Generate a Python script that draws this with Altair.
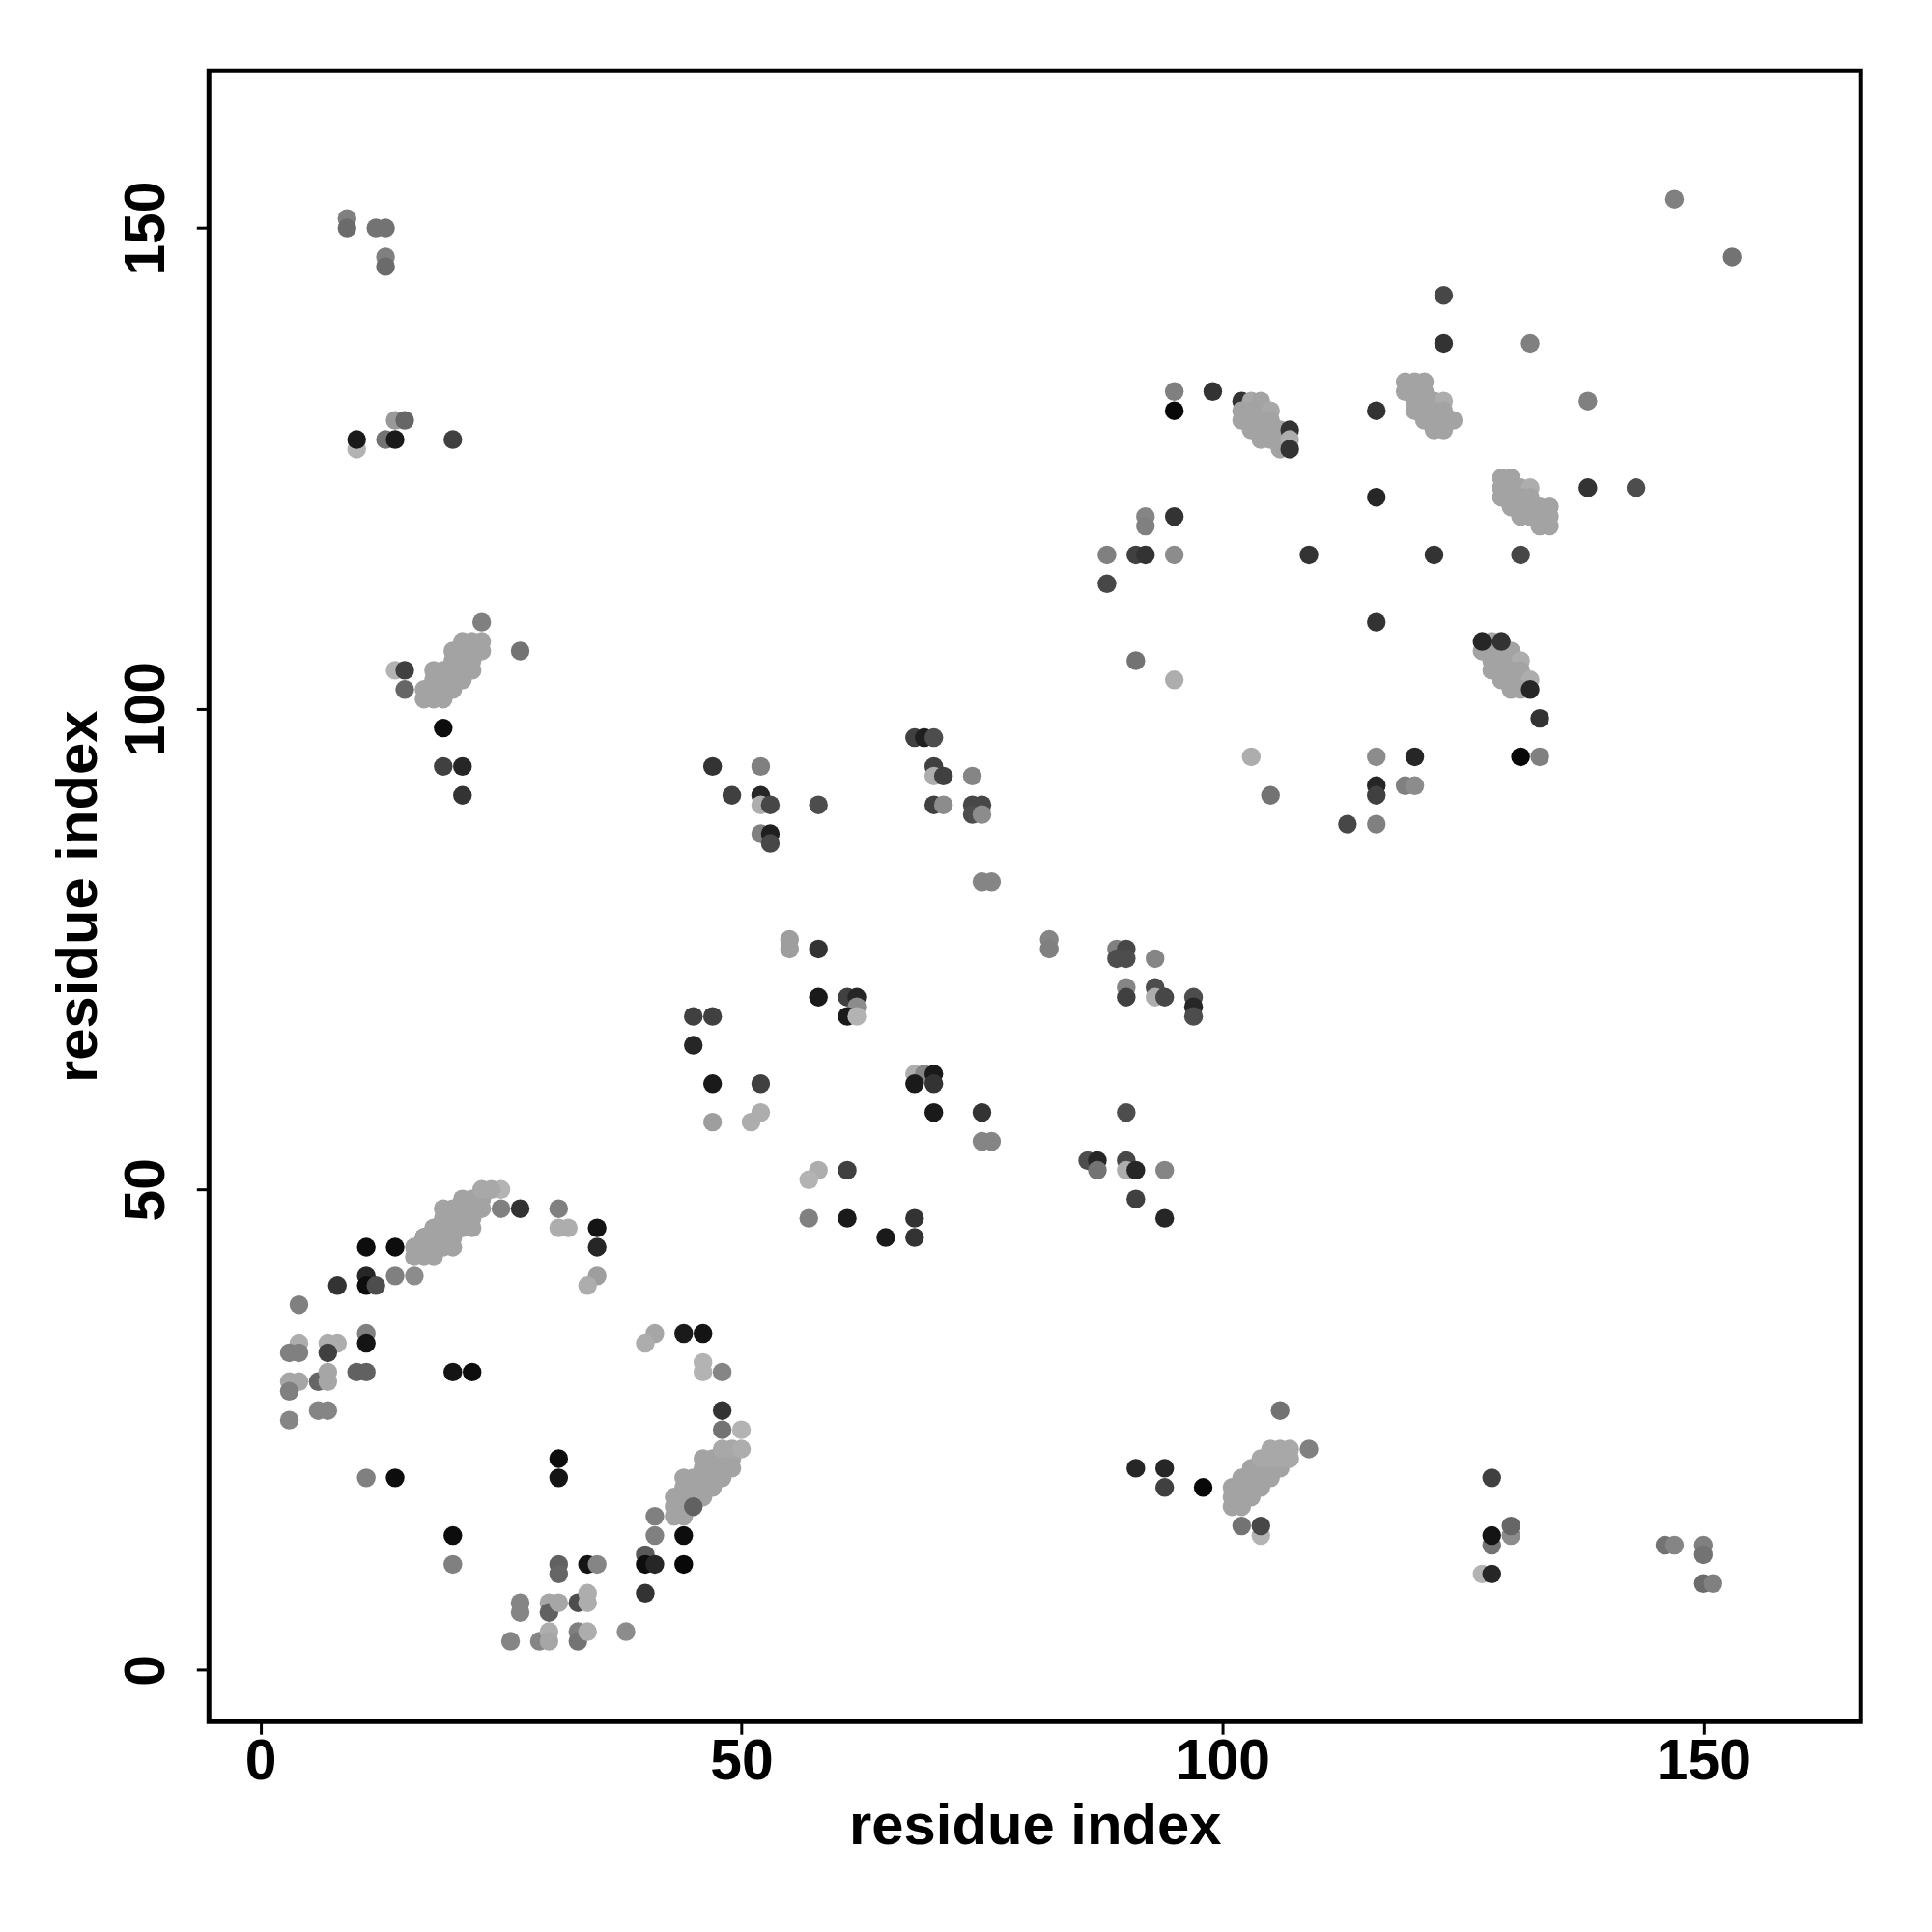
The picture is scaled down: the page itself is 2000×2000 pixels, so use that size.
import altair as alt
import pandas as pd

# (residue i, residue j, shade 0=black .. 1=white)
top_left = [
    (9, 151, .50), (9, 150, .42), (12, 150, .45), (13, 150, .45), (13, 147, .50), (13, 146, .42),
    (10, 127, .70), (10, 128, .10), (13, 128, .45), (14, 128, .10), (14, 130, .60), (15, 130, .40),
    (20, 128, .25),
]

left_block = [
    (23, 109, .50), (27, 106, .45), (14, 104, .70), (15, 104, .25), (15, 102, .40),
    (17, 101, .64), (18, 101, .64), (19, 101, .64),
    (17, 102, .64), (18, 102, .64), (19, 102, .64), (20, 102, .64),
    (18, 103, .64), (19, 103, .64), (20, 103, .64), (21, 103, .64),
    (18, 104, .64), (19, 104, .64), (20, 104, .64), (21, 104, .64), (22, 104, .64),
    (20, 105, .64), (21, 105, .64), (22, 105, .64),
    (20, 106, .64), (21, 106, .64), (22, 106, .64), (23, 106, .64),
    (21, 107, .64), (22, 107, .64), (23, 107, .64),
    (19, 98, .05), (19, 94, .25), (21, 94, .15), (21, 91, .20),
]

bottom_left = [
    (25, 50, .70), (25, 48, .50), (27, 48, .20), (31, 48, .50), (31, 46, .68), (32, 46, .68),
    (35, 46, .08), (35, 44, .15), (35, 41, .62), (34, 40, .68),
    (11, 44, .05), (14, 44, .05), (17, 45, .35),
    (16, 43, .64), (17, 43, .64), (18, 43, .64),
    (16, 44, .64), (17, 44, .64), (18, 44, .64), (19, 44, .64), (20, 44, .64),
    (17, 45, .64), (18, 45, .64), (19, 45, .64), (20, 45, .64),
    (18, 46, .64), (19, 46, .64), (20, 46, .64), (21, 46, .64), (22, 46, .64),
    (19, 47, .64), (20, 47, .64), (21, 47, .64), (22, 47, .64),
    (19, 48, .64), (20, 48, .64), (21, 48, .64), (22, 48, .64), (23, 48, .64),
    (21, 49, .64), (22, 49, .64), (23, 49, .64),
    (23, 50, .66), (24, 50, .66),
    (11, 41, .15), (11, 40, .05), (12, 40, .30), (14, 41, .50), (16, 41, .55), (8, 40, .20),
    (4, 38, .50), (11, 35, .50), (11, 34, .08), (4, 34, .68), (3, 33, .50), (4, 33, .50),
    (7, 34, .68), (8, 34, .68), (7, 33, .25),
    (3, 30, .65), (4, 30, .65), (3, 29, .50), (6, 30, .40), (7, 31, .65), (7, 30, .65),
    (6, 27, .52), (7, 27, .52), (3, 26, .52),
    (10, 31, .38), (11, 31, .38), (20, 31, .08), (22, 31, .05),
    (11, 20, .50), (14, 20, .05), (20, 14, .05), (20, 11, .50),
    (31, 22, .05), (31, 20, .08), (31, 11, .38), (31, 10, .40),
    (27, 7, .52), (27, 6, .52), (30, 7, .65), (30, 6, .38), (31, 7, .65), (33, 7, .30),
    (34, 8, .68), (34, 7, .68),
    (26, 3, .52), (29, 3, .52), (30, 4, .68), (30, 3, .65), (33, 4, .50), (33, 3, .45),
    (34, 4, .68), (38, 4, .55),
    (34, 11, .08), (35, 11, .52), (40, 12, .35), (40, 11, .05), (41, 11, .15),
    (44, 14, .05), (44, 11, .03), (40, 8, .20), (41, 16, .50), (41, 14, .50),
    (43, 16, .64), (44, 16, .64),
    (43, 17, .64), (44, 17, .64),
    (43, 18, .64), (44, 18, .64), (45, 18, .64), (46, 18, .64),
    (44, 19, .64), (45, 19, .64), (46, 19, .64), (47, 19, .64),
    (44, 20, .64), (45, 20, .64), (46, 20, .64), (47, 20, .64), (48, 20, .64),
    (46, 21, .64), (47, 21, .64), (48, 21, .64), (49, 21, .64),
    (46, 22, .64), (47, 22, .64), (48, 22, .64), (49, 22, .64),
    (48, 23, .66), (49, 23, .66), (50, 23, .68),
    (45, 17, .38),
    (48, 27, .20), (48, 25, .45), (50, 25, .70),
    (46, 32, .70), (46, 31, .70), (48, 31, .52), (44, 35, .10), (46, 35, .08),
    (41, 35, .65), (40, 34, .68),
    (58, 52, .68), (57, 51, .70), (61, 52, .25), (57, 47, .50), (61, 47, .10),
    (68, 47, .20), (65, 45, .10), (68, 45, .20),
]

middle = [
    (47, 94, .20), (49, 91, .25), (52, 94, .50), (52, 91, .15), (52, 90, .68), (53, 90, .28),
    (58, 90, .30), (52, 87, .50), (53, 87, .12), (53, 86, .28),
    (68, 97, .25), (69, 97, .12), (70, 97, .30), (70, 94, .25), (70, 93, .68), (71, 93, .25),
    (74, 93, .52), (70, 90, .25), (71, 90, .55), (74, 90, .28), (75, 90, .28), (74, 89, .30),
    (75, 89, .55), (75, 82, .52), (76, 82, .52),
    (55, 76, .62), (55, 75, .62), (58, 75, .20), (58, 70, .10), (61, 70, .25), (62, 70, .15),
    (62, 69, .55), (61, 68, .10), (62, 68, .70),
    (45, 68, .25), (47, 68, .25), (45, 65, .15), (47, 61, .10), (47, 57, .62),
    (52, 61, .25), (52, 58, .68), (51, 57, .68),
    (68, 62, .68), (69, 62, .52), (70, 62, .10), (68, 61, .10), (70, 61, .20), (70, 58, .10),
    (75, 58, .20), (75, 55, .52), (76, 55, .52),
    (82, 76, .52), (82, 75, .50), (89, 75, .50), (90, 75, .28), (89, 74, .30), (90, 74, .30),
    (93, 74, .52), (90, 71, .52), (90, 70, .25), (93, 71, .30), (93, 70, .68), (94, 70, .28),
    (97, 70, .30), (97, 69, .15), (97, 68, .30),
    (90, 58, .30), (86, 53, .30), (87, 53, .15), (87, 52, .45), (90, 53, .28), (90, 52, .68),
    (91, 52, .15), (94, 52, .52), (91, 49, .25), (94, 47, .15),
]

top_right = [
    (95, 133, .50), (95, 131, .03), (99, 133, .20), (102, 132, .20),
    (103, 132, .66), (104, 132, .64),
    (102, 131, .64), (103, 131, .64), (104, 131, .64), (105, 131, .66),
    (102, 130, .64), (103, 130, .64), (104, 130, .64), (105, 130, .64),
    (103, 129, .64), (104, 129, .64), (105, 129, .64), (106, 129, .64),
    (104, 128, .64), (105, 128, .64), (106, 128, .64),
    (106, 127, .64),
    (107, 129, .20), (107, 128, .68), (107, 127, .20),
    (92, 120, .52), (92, 119, .50), (95, 120, .20), (88, 116, .50), (91, 116, .25), (92, 116, .20),
    (95, 116, .55), (109, 116, .20), (88, 113, .28), (91, 105, .45), (95, 103, .68),
    (103, 95, .68), (105, 91, .45), (113, 88, .28), (116, 109, .20),
    (147, 153, .50), (153, 147, .45), (123, 143, .28), (123, 138, .20), (132, 138, .50),
    (138, 132, .50), (116, 131, .20),
    (119, 134, .64), (120, 134, .64), (121, 134, .64),
    (119, 133, .64), (120, 133, .64), (121, 133, .64),
    (120, 132, .64), (121, 132, .64), (122, 132, .64), (123, 132, .68),
    (120, 131, .64), (121, 131, .64), (122, 131, .64), (123, 131, .64),
    (121, 130, .64), (122, 130, .64), (123, 130, .64), (124, 130, .64),
    (122, 129, .64), (123, 129, .64),
    (116, 122, .15), (138, 123, .20), (143, 123, .30),
    (129, 124, .64), (130, 124, .64),
    (129, 123, .64), (130, 123, .64), (131, 123, .64), (132, 123, .68),
    (129, 122, .64), (130, 122, .64), (131, 122, .64), (132, 122, .64),
    (130, 121, .64), (131, 121, .64), (132, 121, .64), (133, 121, .64), (134, 121, .64),
    (131, 120, .64), (132, 120, .64), (133, 120, .64), (134, 120, .64),
    (133, 119, .64), (134, 119, .64),
    (122, 116, .20), (131, 116, .28),
    (128, 107, .66),
    (127, 106, .64), (128, 106, .64), (129, 106, .64), (130, 106, .64),
    (128, 105, .64), (129, 105, .64), (130, 105, .64), (131, 105, .68),
    (128, 104, .64), (129, 104, .64), (130, 104, .64), (131, 104, .64),
    (129, 103, .64), (130, 103, .64), (131, 103, .64), (132, 103, .68),
    (130, 102, .64), (131, 102, .64),
    (127, 107, .15), (129, 107, .20), (132, 102, .15),
    (133, 99, .20), (116, 95, .55), (120, 95, .15), (131, 95, .03), (133, 95, .50),
    (116, 92, .15), (116, 91, .25), (119, 92, .50), (120, 92, .55), (116, 88, .50),
]

bottom_right = [
    (106, 27, .45), (91, 21, .15), (94, 21, .15), (94, 19, .25), (98, 19, .03), (109, 23, .50),
    (101, 17, .64), (102, 17, .64),
    (101, 18, .64), (102, 18, .64), (103, 18, .64),
    (101, 19, .64), (102, 19, .64), (103, 19, .64), (104, 19, .64),
    (102, 20, .64), (103, 20, .64), (104, 20, .64), (105, 20, .64),
    (103, 21, .64), (104, 21, .64), (105, 21, .64), (106, 21, .64),
    (104, 22, .66), (105, 22, .66), (106, 22, .66), (107, 22, .66),
    (105, 23, .66), (106, 23, .66), (107, 23, .66),
    (102, 15, .45), (104, 14, .70), (104, 15, .28),
    (128, 20, .25), (128, 13, .45), (128, 14, .08), (130, 14, .55), (130, 15, .40),
    (127, 10, .70), (128, 10, .15),
    (146, 13, .45), (147, 13, .52), (150, 13, .50), (150, 12, .45), (150, 9, .42), (151, 9, .50),
]

rows = top_left + left_block + bottom_left + middle + top_right + bottom_right
df = pd.DataFrame(rows, columns=["i", "j", "shade"])
df["k"] = range(len(df))

FONT = "Liberation Sans"
dom = [-5.36, 166.36]
ticks = [0, 50, 100, 150]
W = 1716
H = 1715

common_axis = dict(
    values=ticks, format="d", grid=False, domain=False,
    tickSize=13, tickWidth=3, tickColor="black",
    labelFont=FONT, labelFontSize=59, labelFontWeight="bold", labelColor="black",
    labelFlush=False, labelOverlap=False,
    title="residue index", titleFont=FONT, titleFontSize=60, titleFontWeight="bold",
    titleColor="black", titleBaseline="alphabetic", titleAlign="center",
)

x_axis = alt.Axis(labelPadding=46, labelBaseline="alphabetic", labelAlign="center",
                  titleX=W / 2, titleY=127, **common_axis)
y_axis = alt.Axis(labelAngle=270, labelAlign="center", labelBaseline="alphabetic",
                  labelPadding=34, titleAngle=270, titleX=-117, titleY=H / 2, **common_axis)

chart = alt.Chart(df).mark_circle(size=380, opacity=1, strokeWidth=0).encode(
    x=alt.X("i:Q", scale=alt.Scale(domain=dom, nice=False, zero=False), axis=x_axis),
    y=alt.Y("j:Q", scale=alt.Scale(domain=dom, nice=False, zero=False), axis=y_axis),
    color=alt.Color("shade:Q", scale=alt.Scale(domain=[0, 1], range=["#000000", "#ffffff"],
                                               interpolate="rgb"), legend=None),
    order=alt.Order("k:Q"),
).properties(
    width=W, height=H,
    autosize=alt.AutoSizeParams(type="none"),
    padding={"left": 209, "top": 62, "right": 66, "bottom": 205},
    background="white",
).configure_view(stroke="black", strokeWidth=5)

chart.save("out.html", embed_options={"renderer": "svg", "actions": False})
